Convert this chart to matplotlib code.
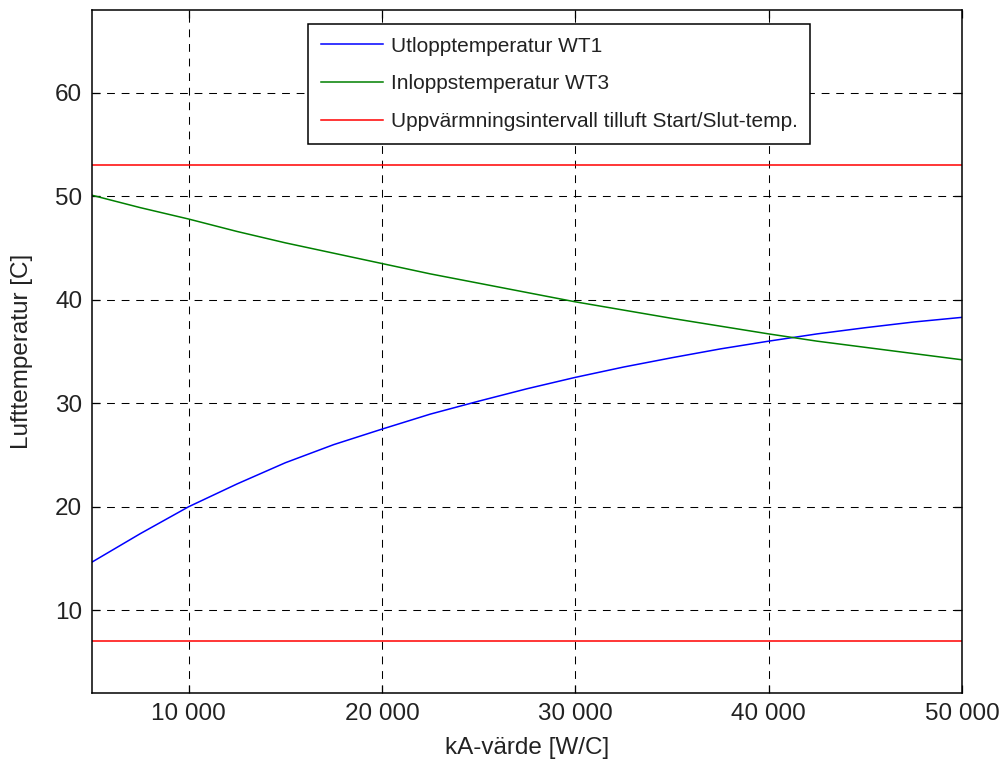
import matplotlib
matplotlib.use("Agg")
import matplotlib.pyplot as plt
from matplotlib.ticker import FuncFormatter

# values
ka = [5000, 7500, 10000, 12500, 15000, 17500, 20000, 22500, 25000, 27500,
      30000, 32500, 35000, 37500, 40000, 42500, 45000, 47500, 50000]
t_ut = [14.65, 17.4, 20.0, 22.2, 24.25, 26.0, 27.5, 28.95, 30.2, 31.4,
        32.5, 33.5, 34.4, 35.25, 36.0, 36.7, 37.3, 37.85, 38.3]
t_in = [50.1, 48.9, 47.8, 46.6, 45.5, 44.5, 43.5, 42.5, 41.6, 40.7,
        39.8, 39.0, 38.2, 37.45, 36.7, 36.0, 35.4, 34.8, 34.2]
t_start = 7
t_slut = 53
labels = ["Utlopptemperatur WT1", "Inloppstemperatur WT3",
          "Uppvärmningsintervall tilluft Start/Slut-temp."]

plt.rcParams["font.family"] = ["Liberation Sans", "DejaVu Sans"]

fig = plt.figure(figsize=(10.04, 7.65), dpi=100)
ax = fig.add_axes([92 / 1004, 72 / 765, 870 / 1004, 683 / 765])

ax.plot(ka, t_ut, color=(0, 0, 1), lw=1.1, label=labels[0])
ax.plot(ka, t_in, color=(0, 0.5, 0), lw=1.1, label=labels[1])
ax.plot([ka[0], ka[-1]], [t_slut, t_slut], color=(1, 0, 0), lw=1.1, label=labels[2])
ax.plot([ka[0], ka[-1]], [t_start, t_start], color=(1, 0, 0), lw=1.1)

ax.set_xlim(5000, 50000)
ax.set_ylim(2, 68)
ax.set_xticks([10000, 20000, 30000, 40000, 50000])
ax.set_yticks([10, 20, 30, 40, 50, 60])
ax.xaxis.set_major_formatter(FuncFormatter(lambda v, p: f"{int(v):,}".replace(",", " ")))

ax.grid(True, color="black", lw=0.75, linestyle=(0, (7.5, 6.5)))
ax.tick_params(direction="in", length=6, width=0.9, top=True, right=True,
               labelsize=17.5, pad=7, colors="black", labelcolor="#222222")
for s in ax.spines.values():
    s.set_linewidth(1.1)

ax.set_xlabel("kA-värde [W/C]", fontsize=17.5, color="#222222")
ax.set_ylabel("Lufttemperatur [C]", fontsize=17.5, color="#222222")
ax.xaxis.set_label_coords(0.5, -0.064)
ax.yaxis.set_label_coords(-0.068, 0.5)

leg = ax.legend(loc="upper right", bbox_to_anchor=(810 / 1004, 1 - 24 / 765),
                bbox_transform=fig.transFigure, borderaxespad=0, fontsize=15,
                fancybox=False, framealpha=1, edgecolor="black",
                handlelength=3.0, handletextpad=0.35, labelspacing=0.9,
                borderpad=0.6)
leg.get_frame().set_linewidth(1.1)
for t in leg.get_texts():
    t.set_color("#222222")

fig.savefig("out.png", dpi=100)
